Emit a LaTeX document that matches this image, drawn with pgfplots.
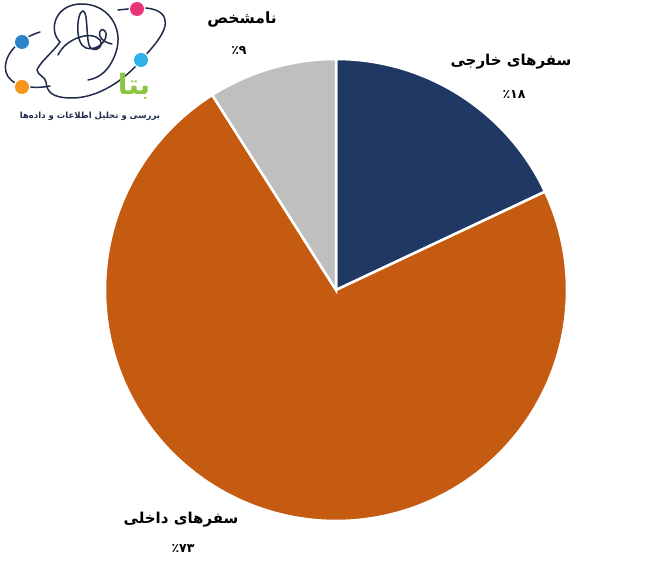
\documentclass[border=0pt]{standalone}
\usepackage{pgfplots}
\pgfplotsset{compat=1.18}
\usepackage{fontspec}
\TeXXeTstate=1
\newfontfamily\arabicfont[Script=Arabic]{DejaVu Sans}
\definecolor{navy}{HTML}{203864}
\definecolor{rust}{HTML}{C55A11}
\definecolor{lgray}{HTML}{BFBFBF}
\definecolor{logoline}{HTML}{1E2B4A}
\definecolor{logogreen}{HTML}{8CC63F}
\definecolor{dotA}{HTML}{2A86C8}
\definecolor{dotB}{HTML}{E8357A}
\definecolor{dotC}{HTML}{2FB0E6}
\definecolor{dotD}{HTML}{F7941D}
\begin{document}
\begin{tikzpicture}
\begin{axis}[
  scale only axis, width=671pt, height=581pt,
  xmin=0, xmax=671, ymin=0, ymax=581,
  hide axis, clip=false,
]
% slices: 18% (foreign), 73% (domestic), 9% (unknown), clockwise from top
\addplot[fill=navy, draw=white, line width=2.5pt, domain={90-18*3.6}:90, samples=90]
  ({336+231*cos(x)},{291+231*sin(x)}) -- (axis cs:336,291) -- cycle;
\addplot[fill=rust, draw=white, line width=2.5pt, domain={90-18*3.6-73*3.6}:{90-18*3.6}, samples=200]
  ({336+231*cos(x)},{291+231*sin(x)}) -- (axis cs:336,291) -- cycle;
\addplot[fill=lgray, draw=white, line width=2.5pt, domain={90-100*3.6}:{90-91*3.6}, samples=60]
  ({336+231*cos(x)},{291+231*sin(x)}) -- (axis cs:336,291) -- cycle;

\node[font=\arabicfont\bfseries\fontsize{15}{17}\selectfont] at (axis cs:511,519) {\beginR سفرهای خارجی\endR};
\node[font=\arabicfont\bfseries\fontsize{12.5}{14}\selectfont] at (axis cs:514,486) {٪\mbox{۱}\mbox{۸}};
\node[font=\arabicfont\bfseries\fontsize{15.5}{17}\selectfont] at (axis cs:242,561) {\beginR نامشخص\endR};
\node[font=\arabicfont\bfseries\fontsize{12.5}{14}\selectfont] at (axis cs:239,530) {٪\mbox{۹}};
\node[font=\arabicfont\bfseries\fontsize{15}{17}\selectfont] at (axis cs:181,61) {\beginR سفرهای داخلی\endR};
\node[font=\arabicfont\bfseries\fontsize{12.5}{14}\selectfont] at (axis cs:183,32) {٪\mbox{۷}\mbox{۳}};
\path (rel axis cs:0,0) rectangle (rel axis cs:1,1);
\end{axis}
% logo (decoration)
\begin{scope}[x=1pt,y=-1pt,shift={(0pt,581pt)}, logoline, line width=1.5pt, line cap=round]
  % left orbit arc
  \draw (40,32) .. controls (20,38) and (2,55) .. (6,72) .. controls (9,85) and (30,90) .. (50,86);
  % face profile and lower orbit to the right
  \draw (60,42) .. controls (55,50) and (40,62) .. (37,70) .. controls (38,76) and (45,76) .. (46,82)
     .. controls (47,92) and (52,98) .. (72,98) .. controls (98,98) and (125,80) .. (141,60)
     .. controls (158,42) and (172,25) .. (162,14) .. controls (155,7) and (140,7) .. (128,9)
     -- (118,10);
  % head loop
  \draw (60,42) .. controls (48,30) and (55,5) .. (80,4) .. controls (108,3) and (124,28) .. (116,52)
     .. controls (110,70) and (100,78) .. (88,80);
  % inner loops
  \draw (58,55) .. controls (66,38) and (92,30) .. (100,40) .. controls (105,48) and (92,54) .. (89,45)
     .. controls (86,35) and (88,12) .. (83,11) .. controls (77,11) and (74,44) .. (86,48)
     .. controls (98,52) and (110,38) .. (105,31) .. controls (100,25) and (93,40) .. (112,44);
  \fill[white] (22,42) circle (8.5);
  \fill[white] (141,60) circle (8.5);
  \fill[white] (137,9) circle (8.5);
  \fill[white] (22,87) circle (8.5);
  \fill[dotA] (22,42) circle (7);
  \fill[dotB] (137,9) circle (7);
  \fill[dotC] (141,60) circle (7);
  \fill[dotD] (22,87) circle (7);
  \node[font=\arabicfont\bfseries\fontsize{28}{30}\selectfont, text=logogreen] at (134,86) {\beginR بتا\endR};
  \node[font=\arabicfont\bfseries\fontsize{8.5}{10}\selectfont, text=logoline] at (90,116) {\beginR بررسی و تحلیل اطلاعات و داده‌ها\endR};
\end{scope}
\end{tikzpicture}
\end{document}
